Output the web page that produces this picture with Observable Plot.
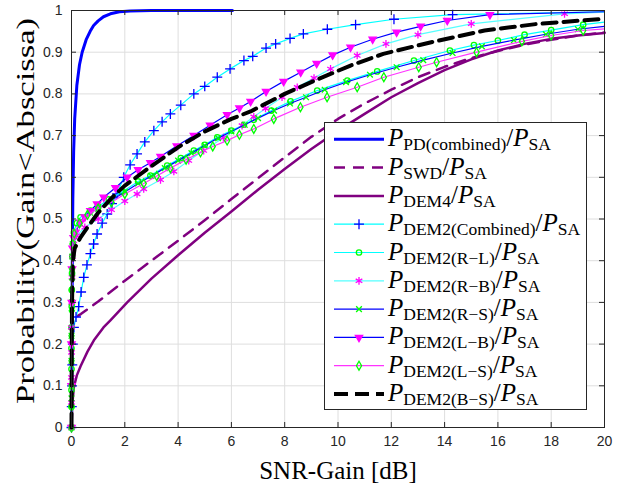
<!DOCTYPE html>
<html><head><meta charset="utf-8">
<script src="https://cdn.jsdelivr.net/npm/d3@7"></script>
<script src="https://cdn.jsdelivr.net/npm/@observablehq/plot@0.6"></script>
<style>body{margin:0;background:#fff}#chart{width:626px;height:488px}</style>
</head><body><div id="chart"></div>
<script>
// ---------- data ----------
const xTicks = [0,2,4,6,8,10,12,14,16,18,20];
const yTicks = [0,0.1,0.2,0.3,0.4,0.5,0.6,0.7,0.8,0.9,1];
const yTickLabels = ["0","0.1","0.2","0.3","0.4","0.5","0.6","0.7","0.8","0.9","1"];
const xLabel = "SNR-Gain [dB]";
const yLabel = "Probability(Gain<Abscissa)";
const legendSubs = ["PD(combined)","SWD","DEM4","DEM2(Combined)","DEM2(R\u2212L)","DEM2(R\u2212B)","DEM2(R\u2212S)","DEM2(L\u2212B)","DEM2(L\u2212S)","DEM2(B\u2212S)"];
const legendDenSub = "SA";

const pdCombined = [[0,0],[0.01,0.1],[0.02,0.25],[0.03,0.4],[0.05,0.55],[0.08,0.66],[0.12,0.74],[0.2,0.82],[0.3,0.87],[0.4,0.9],[0.55,0.93],[0.7,0.95],[0.83,0.964],[1.0,0.975],[1.2,0.985],[1.46,0.992],[1.8,0.997],[2.2,0.999],[3,1],[4,1],[5,1],[6.04,1]];
const swd = [[0,0],[0.01,0.12],[0.03,0.22],[0.08,0.262],[0.35,0.272],[1,0.302],[2,0.352],[3,0.4],[4,0.448],[5,0.497],[6,0.548],[7,0.598],[8,0.648],[9,0.697],[10,0.74],[11,0.777],[12,0.81],[13,0.84],[14,0.865],[15,0.886],[16,0.903],[17,0.918],[18,0.93],[19,0.94],[20,0.947]];
const dem4 = [[0,0],[0.02,0.04],[0.05,0.07],[0.09,0.097],[0.2,0.125],[0.34,0.147],[0.6,0.182],[0.84,0.209],[1.2,0.24],[1.46,0.257],[2.09,0.3],[3,0.357],[4,0.413],[5,0.467],[6,0.518],[7,0.57],[8,0.62],[9,0.668],[10,0.712],[11,0.752],[12,0.792],[13,0.826],[14,0.857],[15,0.883],[16,0.904],[17,0.92],[18,0.932],[19,0.94],[20,0.946]];
const dem2Combined = [[0,0],[0.01,0.05],[0.02,0.1],[0.03,0.15],[0.05,0.2],[0.09,0.24],[0.17,0.265],[0.27,0.29],[0.36,0.325],[0.46,0.36],[0.58,0.39],[0.71,0.417],[0.83,0.44],[0.96,0.464],[1.15,0.49],[1.34,0.512],[1.52,0.537],[1.71,0.56],[1.96,0.6],[2.2,0.63],[2.46,0.656],[2.75,0.685],[3.09,0.712],[3.4,0.733],[3.71,0.752],[4.1,0.773],[4.59,0.8],[5.0,0.818],[5.47,0.84],[5.95,0.86],[6.47,0.88],[6.8,0.89],[7.3,0.91],[7.66,0.92],[8.2,0.933],[8.7,0.944],[9.6,0.955],[10.66,0.966],[12.1,0.979],[14.3,0.99],[20,0.997]];
const dem2RL = [[0,0],[0,0.05],[0,0.09],[0,0.14],[0,0.19],[0,0.24],[0.01,0.29],[0.01,0.33],[0.02,0.37],[0.03,0.41],[0.05,0.44],[0.09,0.468],[0.2,0.49],[0.34,0.504],[0.71,0.52],[1.0,0.53],[1.4,0.547],[1.9,0.565],[2.5,0.59],[2.96,0.604],[3.59,0.628],[4.1,0.646],[4.59,0.664],[5.0,0.678],[5.47,0.696],[6.0,0.712],[6.47,0.726],[6.84,0.738],[7.5,0.76],[8.22,0.782],[9.22,0.808],[10.35,0.832],[11.47,0.854],[12.85,0.88],[14.2,0.904],[15.1,0.917],[16.0,0.928],[17.0,0.942],[18.0,0.953],[19.2,0.966],[20,0.972]];
const dem2RB = [[0,0],[0,0.06],[0,0.12],[0,0.18],[0,0.24],[0.01,0.3],[0.02,0.36],[0.04,0.41],[0.08,0.44],[0.2,0.46],[0.5,0.48],[1.0,0.5],[1.5,0.522],[2.0,0.543],[2.46,0.56],[2.71,0.572],[3.34,0.594],[3.84,0.614],[4.4,0.64],[4.96,0.664],[5.7,0.695],[6.4,0.724],[6.84,0.745],[7.28,0.765],[7.9,0.792],[8.47,0.816],[9.1,0.838],[9.72,0.86],[10.72,0.892],[11.8,0.92],[13.0,0.942],[15.0,0.968],[18.5,0.992],[20,0.996]];
const dem2RS = [[0,0],[0,0.07],[0,0.16],[0,0.22],[0.01,0.3],[0.02,0.36],[0.03,0.41],[0.05,0.44],[0.09,0.46],[0.3,0.49],[0.7,0.515],[1.0,0.525],[1.5,0.545],[2,0.565],[2.5,0.585],[3,0.603],[3.5,0.622],[4,0.64],[4.5,0.658],[5,0.676],[5.5,0.694],[6,0.71],[6.5,0.726],[7,0.742],[7.6,0.76],[8.2,0.777],[8.8,0.792],[9.5,0.81],[10.3,0.828],[11.2,0.846],[12.2,0.864],[13.2,0.881],[14.3,0.898],[15.4,0.914],[16.6,0.929],[17.8,0.943],[19.0,0.955],[20,0.962]];
const dem2LB = [[0,0],[0,0.1],[0,0.2],[0.01,0.3],[0.02,0.38],[0.04,0.43],[0.08,0.455],[0.15,0.468],[0.34,0.492],[0.5,0.505],[0.71,0.52],[0.96,0.536],[1.21,0.552],[1.65,0.575],[2.09,0.6],[2.5,0.618],[2.96,0.635],[3.34,0.65],[3.95,0.675],[4.59,0.7],[5.2,0.725],[5.84,0.75],[6.3,0.766],[6.72,0.782],[7.3,0.806],[7.96,0.83],[8.6,0.852],[9.2,0.873],[9.8,0.893],[10.47,0.912],[11.3,0.931],[12.2,0.948],[13.1,0.962],[14.1,0.976],[15.7,0.99],[20,0.997]];
const dem2LS = [[0,0],[0,0.05],[0,0.1],[0,0.16],[0,0.22],[0.01,0.28],[0.01,0.33],[0.02,0.38],[0.05,0.44],[0.1,0.465],[0.3,0.49],[0.6,0.51],[1.0,0.525],[1.5,0.54],[2.0,0.56],[2.71,0.585],[3.2,0.603],[3.71,0.622],[4.3,0.642],[4.84,0.66],[5.3,0.674],[5.84,0.688],[6.3,0.702],[6.84,0.716],[7.59,0.74],[8.59,0.768],[9.59,0.792],[10.72,0.816],[11.72,0.84],[13.03,0.864],[13.7,0.876],[15.2,0.9],[16.9,0.926],[18.0,0.94],[19.2,0.952],[20,0.956]];
const dem2BS = [[0,0],[0.01,0.2],[0.02,0.3],[0.05,0.4],[0.12,0.43],[0.34,0.456],[0.6,0.48],[1.0,0.515],[1.5,0.55],[2.0,0.58],[2.96,0.625],[4,0.672],[5,0.71],[6,0.74],[6.72,0.758],[8,0.8],[9.2,0.834],[10.47,0.868],[11.7,0.896],[13.5,0.924],[15.5,0.952],[17.5,0.968],[20,0.98]];

// ---------- styles ----------
const series = [
  {data: pdCombined, stroke: "#0000ff", width: 3},
  {data: swd, stroke: "#800080", width: 2.5, dash: "11,8"},
  {data: dem4, stroke: "#800080", width: 2.5},
  {data: dem2Combined, stroke: "#00ffff", width: 1.2, symbol: "plus", mStroke: "#0000ff", mFill: "none", r: 3.3},
  {data: dem2RL, stroke: "#00ffff", width: 1.2, symbol: "circle", mStroke: "#00ff00", mFill: "none", r: 2.7},
  {data: dem2RB, stroke: "#55ffff", width: 1.2, symbol: "asterisk", mStroke: "#ff00ff", mFill: "none", r: 3.6},
  {data: dem2RS, stroke: "#0000ff", width: 1.2, symbol: "times", mStroke: "#00ff00", mFill: "none", r: 2.7},
  {data: dem2LB, stroke: "#0000ff", width: 1.2, symbol: "triangle", rotate: 180, mStroke: "#ff00ff", mFill: "#ff00ff", r: 2.7},
  {data: dem2LS, stroke: "#ff33ff", width: 1.2, symbol: "diamond", mStroke: "#00ff00", mFill: "none", r: 2.7},
  {data: dem2BS, stroke: "#000000", width: 4, dash: "14,7"}
];

const W = 626, H = 488, mL = 71, mR = 22, mT = 10, mB = 61;
const axisColor = "#262626";
const pw = W - mL - mR, ph = H - mT - mB, tl = 5;

const marks = [
  Plot.gridX(xTicks, {stroke: "#dedede", strokeOpacity: 1}),
  Plot.gridY(yTicks, {stroke: "#dedede", strokeOpacity: 1})
];
for (const s of series) {
  marks.push(Plot.line(s.data, {x: d => d[0], y: d => d[1], stroke: s.stroke, strokeWidth: s.width, strokeDasharray: s.dash || null, curve: "linear"}));
  if (s.symbol) {
    marks.push(Plot.dot(s.data.slice(0, -1), {x: d => d[0], y: d => d[1], symbol: s.symbol, r: s.r, stroke: s.mStroke, fill: s.mFill, strokeWidth: 1.3, rotate: s.rotate || 0}));
  }
}
marks.push(
  Plot.tickX(xTicks, {x: d => d, insetTop: ph - tl, stroke: axisColor}),
  Plot.tickX(xTicks, {x: d => d, insetBottom: ph - tl, stroke: axisColor}),
  Plot.tickY(yTicks, {y: d => d, insetRight: pw - tl, stroke: axisColor}),
  Plot.tickY(yTicks, {y: d => d, insetLeft: pw - tl, stroke: axisColor}),
  Plot.axisX({ticks: xTicks, tickSize: 0, tickPadding: 9, tickFormat: d => String(d), fill: axisColor, label: null}),
  Plot.axisY({ticks: yTicks, tickSize: 0, tickPadding: 9, tickFormat: d => yTickLabels[yTicks.indexOf(d)], fill: axisColor, label: null}),
  Plot.frame({stroke: axisColor})
);

const chart = Plot.plot({
  width: W, height: H,
  marginLeft: mL, marginRight: mR, marginTop: mT, marginBottom: mB,
  x: {domain: [0, 20]},
  y: {domain: [0, 1]},
  style: {fontFamily: "'Liberation Sans', Arial, sans-serif", fontSize: "14px", background: "#fff", overflow: "visible"},
  marks
});
document.getElementById("chart").appendChild(chart);

// ---------- labels & legend ----------
const svg = d3.select(chart);
const serif = "'Liberation Serif', 'Times New Roman', serif";
svg.append("text").attr("x", 338).attr("y", 479).attr("text-anchor", "middle")
  .attr("font-family", serif).attr("font-size", 25).attr("fill", "#000").text(xLabel);
svg.append("text").attr("transform", "translate(34,211) rotate(-90)").attr("text-anchor", "middle")
  .attr("font-family", serif).attr("font-size", 25).attr("fill", "#000")
  .attr("textLength", 386).attr("lengthAdjust", "spacingAndGlyphs").text(yLabel);

const lg = svg.append("g");
lg.append("rect").attr("x", 324.5).attr("y", 122.5).attr("width", 262).attr("height", 287)
  .attr("fill", "#fff").attr("stroke", axisColor).attr("stroke-width", 1);
const symMap = {plus: d3.symbolPlus, circle: d3.symbolCircle, asterisk: d3.symbolAsterisk, times: d3.symbolTimes, triangle: d3.symbolTriangle, diamond: d3.symbolDiamond};
series.forEach((s, i) => {
  const cy = 139.3 + i * 28.3;
  lg.append("line").attr("x1", 334).attr("x2", 384).attr("y1", cy).attr("y2", cy)
    .attr("stroke", s.stroke).attr("stroke-width", s.width).attr("stroke-dasharray", s.dash || null);
  if (s.symbol) {
    lg.append("path").attr("d", d3.symbol(symMap[s.symbol], s.r * s.r * Math.PI)())
      .attr("transform", `translate(359,${cy}) rotate(${s.rotate || 0})`)
      .attr("stroke", s.mStroke).attr("fill", s.mFill).attr("stroke-width", 1.3);
  }
  const t = lg.append("text").attr("x", 388).attr("y", cy + 7).attr("text-anchor", "start")
    .attr("font-family", serif).attr("font-size", 25).attr("fill", "#000");
  t.append("tspan").attr("font-style", "italic").text("P");
  t.append("tspan").attr("font-size", 17.5).attr("dy", 4).text(legendSubs[i]);
  t.append("tspan").attr("dy", -4).text("/");
  t.append("tspan").attr("font-style", "italic").text("P");
  t.append("tspan").attr("font-size", 17.5).attr("dy", 4).text(legendDenSub);
});
</script>
</body></html>
